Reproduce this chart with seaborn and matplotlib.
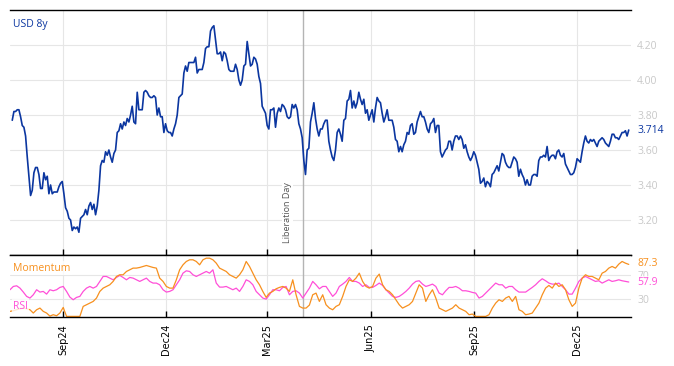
import numpy as np
import pandas as pd
import matplotlib
matplotlib.use("Agg")
import matplotlib.pyplot as plt
import matplotlib.dates as mdates
import seaborn as sns

# USD 8y swap rate (roughly every 1.5 days)
usd_8y = [
    3.77, 3.82, 3.82, 3.83, 3.83, 3.79, 3.74, 3.73, 3.68, 3.56,
    3.45, 3.34, 3.37, 3.47, 3.50, 3.50, 3.46, 3.38, 3.38, 3.47,
    3.43, 3.45, 3.35, 3.40, 3.35, 3.36, 3.36, 3.36, 3.39, 3.41,
    3.42, 3.35, 3.27, 3.25, 3.21, 3.20, 3.14, 3.16, 3.15, 3.16,
    3.13, 3.21, 3.22, 3.23, 3.26, 3.23, 3.28, 3.30, 3.26, 3.29,
    3.23, 3.28, 3.37, 3.51, 3.54, 3.53, 3.59, 3.57, 3.60, 3.56,
    3.53, 3.58, 3.60, 3.70, 3.71, 3.75, 3.72, 3.76, 3.74, 3.78,
    3.76, 3.80, 3.85, 3.76, 3.75, 3.93, 3.83, 3.83, 3.83, 3.93,
    3.94, 3.93, 3.91, 3.90, 3.90, 3.91, 3.90, 3.80, 3.84, 3.79,
    3.79, 3.70, 3.75, 3.71, 3.70, 3.70,
    3.68, 3.72, 3.75, 3.80, 3.90, 3.91, 3.92, 4.04, 4.08, 4.05,
    4.10, 4.10, 4.10, 4.10, 4.13, 4.04, 4.06, 4.06, 4.06, 4.10,
    4.18, 4.19, 4.19, 4.28, 4.30, 4.31, 4.23, 4.15, 4.15, 4.16,
    4.11, 4.16, 4.15, 4.11, 4.06, 4.05, 4.05, 4.05, 4.09, 4.06,
    4.00, 3.97, 4.00, 4.08, 4.09, 4.22, 4.15, 4.08, 4.09, 4.13,
    4.12, 4.09, 4.02, 3.98, 3.85, 3.83, 3.81, 3.74, 3.72, 3.83,
    3.83, 3.84, 3.73, 3.81, 3.84, 3.82, 3.86, 3.85, 3.83, 3.79,
    3.78, 3.79, 3.86, 3.84, 3.86, 3.83, 3.75, 3.72, 3.67, 3.54,
    3.46, 3.60, 3.61, 3.76, 3.81, 3.87, 3.78, 3.72, 3.68, 3.72,
    3.72, 3.75, 3.77,
    3.77, 3.65, 3.60, 3.56, 3.54, 3.60, 3.70, 3.72, 3.69, 3.65,
    3.77, 3.78, 3.88, 3.89, 3.94, 3.84, 3.88, 3.84, 3.87, 3.93,
    3.89, 3.86, 3.89, 3.81, 3.83, 3.77, 3.80, 3.83, 3.76, 3.84,
    3.90, 3.88, 3.87, 3.81, 3.76, 3.79, 3.83, 3.77, 3.77, 3.77,
    3.73, 3.66, 3.65, 3.59, 3.62, 3.59, 3.63, 3.65, 3.70, 3.69,
    3.74, 3.75, 3.69, 3.70, 3.76, 3.79, 3.82, 3.79, 3.79, 3.76,
    3.72, 3.70, 3.75, 3.76, 3.78, 3.70, 3.74, 3.74, 3.59, 3.56,
    3.58, 3.60, 3.61, 3.65, 3.65, 3.60, 3.65, 3.68, 3.68, 3.66,
    3.68, 3.66, 3.61, 3.63, 3.59, 3.56, 3.54, 3.56, 3.59, 3.57,
    3.53, 3.49, 3.41,
    3.42, 3.44, 3.39, 3.42, 3.41, 3.39, 3.46, 3.47, 3.49, 3.51,
    3.48, 3.53, 3.58, 3.57, 3.53, 3.51, 3.50, 3.50, 3.53, 3.56,
    3.55, 3.53, 3.45, 3.49, 3.46, 3.44, 3.40, 3.43, 3.40, 3.40,
    3.45, 3.46, 3.46, 3.45, 3.54, 3.56, 3.56, 3.57, 3.56, 3.62,
    3.54, 3.56, 3.57, 3.57, 3.55, 3.59, 3.60, 3.57, 3.56, 3.58,
    3.52, 3.50, 3.48, 3.46, 3.46, 3.47, 3.50, 3.55, 3.54, 3.53,
    3.59, 3.64, 3.68, 3.65, 3.64, 3.66, 3.65, 3.66, 3.64, 3.62,
    3.65, 3.66, 3.67, 3.66, 3.64, 3.63, 3.62, 3.65, 3.69, 3.69,
    3.67, 3.67, 3.66, 3.68, 3.70, 3.70, 3.71, 3.68, 3.714,
]

rsi = [
    45.0, 50.5, 51.6, 47.7, 41.1, 33.9, 31.1, 36.6, 45.0, 41.1,
    42.2, 37.7, 45.0, 43.3, 45.0, 48.9, 50.5, 42.2, 32.7, 28.3,
    32.2, 33.9, 42.2, 47.7, 50.5, 47.7, 50.5, 58.9, 67.2, 67.2,
    64.4, 61.6, 65.5, 68.9, 65.5, 61.6, 65.5, 64.4, 61.6, 58.9,
    61.6, 64.4, 58.9, 56.1, 56.1, 53.3, 45.0, 41.1, 42.2, 45.0,
    53.3, 61.6, 72.7, 76.6, 75.5, 70.0, 67.2, 70.0, 72.7, 75.5,
    72.7, 78.3, 56.1, 49.4, 49.4, 50.5, 47.7, 45.0, 47.7, 42.2,
    50.5, 61.6, 58.9, 53.3, 42.2, 36.6, 31.1, 29.4, 36.6, 45.0,
    45.0, 43.3, 48.9, 50.5, 36.6, 42.2, 43.3, 39.4, 31.1, 39.4,
    47.7, 58.9, 53.3, 46.6,
    50.5, 50.5, 42.2, 33.9, 39.4, 50.5, 54.4, 58.9, 65.5, 58.9,
    58.9, 56.1, 50.5, 53.3, 48.9, 48.9, 52.2, 56.1, 52.2, 45.0,
    39.4, 33.9, 32.2, 33.9, 37.7, 42.2, 47.7, 54.4, 58.9, 60.0,
    54.4, 50.5, 52.2, 54.4, 50.5, 39.4, 36.6, 43.3, 48.9, 48.9,
    50.5, 47.7, 43.3, 43.3, 42.2, 40.5, 39.4, 31.1, 33.9, 39.4,
    45.0, 50.5, 56.1, 53.3, 53.3, 47.7, 50.5, 50.5, 45.0, 41.1,
    41.1, 41.1, 45.0, 48.9, 53.3, 58.9, 63.3, 60.0, 56.1, 54.4,
    54.4, 56.1, 50.5, 45.0, 37.7, 37.7, 47.7, 58.9, 64.4, 67.2,
    64.4, 61.6, 58.9, 60.0, 56.1, 58.9, 61.6, 58.9, 60.0, 61.6,
    60.0, 58.9, 57.9,
]

momentum = [
    8.9, 10.0, 11.6, 13.3, 14.4, 13.3, 11.6, 6.1, 11.6, 14.4,
    8.9, 6.1, 1.0, 3.3, 1.6, 6.1, 15.5, 0.5, 0.5, 0.5,
    0.5, 0.5, 17.2, 20.0, 22.7, 25.5, 31.1, 42.2, 47.7, 50.5,
    53.3, 58.9, 67.2, 70.0, 70.0, 75.5, 78.3, 81.1, 81.1, 82.2,
    83.9, 85.5, 83.9, 82.2, 81.1, 64.4, 58.9, 50.5, 47.7, 47.7,
    61.6, 78.3, 86.6, 92.2, 95.0, 95.0, 92.2, 86.6, 95.0, 97.7,
    97.7, 95.0, 89.4, 81.1, 78.3, 75.5, 70.0, 67.2, 64.4, 70.0,
    78.3, 92.2, 83.9, 72.7, 61.6, 53.3, 42.2, 32.2, 39.4, 42.2,
    46.6, 48.9, 50.5, 47.7, 42.2, 61.6, 36.6, 17.2, 14.4, 14.4,
    19.4, 36.6, 39.4, 25.5,
    36.6, 20.0, 14.4, 11.6, 17.2, 20.0, 33.9, 50.5, 61.6, 58.9,
    64.4, 72.7, 58.9, 50.5, 47.7, 50.5, 64.4, 71.1, 53.3, 45.0,
    42.2, 36.6, 28.3, 20.0, 14.4, 17.2, 20.0, 25.5, 39.4, 53.3,
    47.7, 25.5, 36.6, 45.0, 31.1, 14.4, 11.6, 8.9, 11.6, 14.4,
    20.0, 14.4, 11.6, 8.9, 3.3, 4.4, 0.5, 0.5, 0.5, 0.5,
    3.3, 14.4, 22.7, 28.3, 25.5, 31.1, 33.9, 25.5, 33.9, 11.6,
    8.9, 3.3, 4.4, 6.1, 14.4, 22.7, 36.6, 47.7, 52.2, 47.7,
    56.1, 50.5, 53.3, 45.0, 28.3, 17.2, 22.7, 47.7, 64.4, 70.0,
    67.2, 67.2, 64.4, 61.6, 72.7, 75.5, 81.1, 83.9, 81.1, 87.7,
    92.2, 89.4, 87.3,
]

rate_start, rate_end = "2024-07-18", "2026-01-16"
ind_start, ind_end = "2024-07-16", "2026-01-16"
event_date = pd.Timestamp("2025-04-02")
event_label = "Liberation Day"
rate_ticks = [3.2, 3.4, 3.6, 3.8, 4.0, 4.2]
ind_ticks = [30, 70]

BLUE = "#0b36a0"
ORANGE = "#f7901e"
PINK = "#ff4fd8"
GRID = "#e6e6e6"
TICK_GREY = "#c8c8c8"

sns.set_theme(style="white")
plt.rcParams["font.family"] = ["Open Sans", "DejaVu Sans"]

rate_df = pd.DataFrame({
    "date": pd.date_range(rate_start, rate_end, periods=len(usd_8y)),
    "value": usd_8y,
})
ind_dates = pd.date_range(ind_start, ind_end, periods=len(rsi))
ind_df = pd.DataFrame({"date": ind_dates, "RSI": rsi, "Momentum": momentum})

fig = plt.figure(figsize=(6.74, 3.66), dpi=100)
ax = fig.add_axes([10 / 674, 1 - 255 / 366, 621 / 674, 245 / 366])
ax2 = fig.add_axes([10 / 674, 1 - 317 / 366, 621 / 674, 62 / 366], sharex=ax)

sns.lineplot(data=rate_df, x="date", y="value", ax=ax, color=BLUE, lw=1.2)
sns.lineplot(data=ind_df, x="date", y="RSI", ax=ax2, color=PINK, lw=0.9)
sns.lineplot(data=ind_df, x="date", y="Momentum", ax=ax2, color=ORANGE, lw=0.9)

for a in (ax, ax2):
    a.set_xlabel("")
    a.set_ylabel("")
    a.grid(True, color=GRID, lw=0.8)
    a.set_axisbelow(True)
    for side in ("left", "right"):
        a.spines[side].set_visible(False)
    for side in ("top", "bottom"):
        a.spines[side].set_color("black")
        a.spines[side].set_linewidth(1.0)
    a.yaxis.tick_right()
    a.tick_params(axis="y", length=0, pad=4.5, labelcolor=TICK_GREY, labelsize=7.5)
    a.axvline(event_date, color="#b4b4b4", lw=1, zorder=1)

ax.set_xlim(pd.Timestamp("2024-07-16"), pd.Timestamp("2026-01-18"))
ax.xaxis.set_major_locator(mdates.MonthLocator(bymonth=[3, 6, 9, 12]))
ax.xaxis.set_major_formatter(mdates.DateFormatter("%b%y"))

ax.set_ylim(3.0, 4.4)
ax.set_yticks(rate_ticks)
ax.set_yticklabels([f"{t:.2f}" for t in rate_ticks])
ax.tick_params(axis="x", direction="in", length=4, width=1, color="black",
               bottom=True, top=False, labelbottom=False)

ax2.set_ylim(-0.5, 103)
ax2.set_yticks(ind_ticks)
ax2.set_yticklabels([str(t) for t in ind_ticks])
ax2.tick_params(axis="x", direction="in", length=4, width=1, color="black",
                bottom=True, top=False, labelbottom=True, labelrotation=90,
                labelsize=7, labelcolor="black", labelfontfamily="DejaVu Sans", pad=5)

# labels
ax.text(0.005, 0.939, "USD 8y", transform=ax.transAxes, color=BLUE,
        fontsize=7.5, va="center", ha="left")
ax2.text(0.005, 0.79, "Momentum", transform=ax2.transAxes, color=ORANGE, fontsize=7.5,
         va="center", ha="left",
         bbox=dict(facecolor="white", edgecolor="none", alpha=0.8, pad=1))
ax2.text(0.005, 0.177, "RSI", transform=ax2.transAxes, color=PINK, fontsize=7.5,
         va="center", ha="left",
         bbox=dict(facecolor="white", edgecolor="none", alpha=0.8, pad=1))

ax.annotate(event_label, xy=(event_date, 0.05), xycoords=("data", "axes fraction"),
            xytext=(-8, 0), textcoords="offset points", rotation=90,
            ha="right", va="bottom", fontsize=6.5, color="#555555",
            bbox=dict(facecolor="white", edgecolor="none", pad=1))

# last values on the right
ax.annotate(f"{usd_8y[-1]:.3f}", xy=(1, usd_8y[-1]), xycoords=("axes fraction", "data"),
            xytext=(4.5, 0), textcoords="offset points", va="center", ha="left",
            color=BLUE, fontsize=7.5, annotation_clip=False)
ax2.annotate(f"{momentum[-1]:.1f}", xy=(1, momentum[-1]), xycoords=("axes fraction", "data"),
             xytext=(4.5, 1), textcoords="offset points", va="center", ha="left",
             color=ORANGE, fontsize=7.5, annotation_clip=False)
ax2.annotate(f"{rsi[-1]:.1f}", xy=(1, rsi[-1]), xycoords=("axes fraction", "data"),
             xytext=(4.5, 0), textcoords="offset points", va="center", ha="left",
             color=PINK, fontsize=7.5, annotation_clip=False,
             bbox=dict(facecolor="white", edgecolor="none", alpha=0.7, pad=0.5))

fig.savefig("out.png", dpi=100)
